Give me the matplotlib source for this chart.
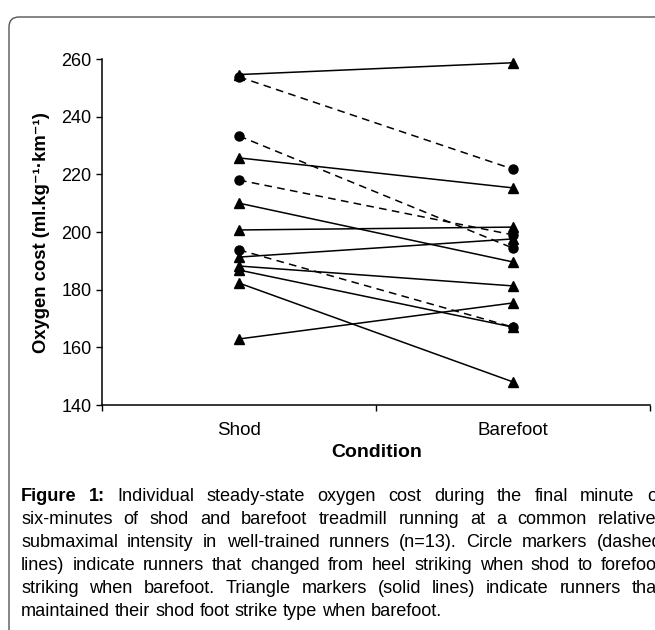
import matplotlib
matplotlib.use("Agg")
import matplotlib.pyplot as plt
from matplotlib.patches import FancyBboxPatch

# ---- data ----
conditions = ["Shod", "Barefoot"]
yticks = [140, 160, 180, 200, 220, 240, 260]
# runners that changed heel -> forefoot strike (circles, dashed)
circle_shod = [253.8, 233.3, 218.0, 193.8]
circle_barefoot = [221.8, 194.4, 199.0, 167.0]
# runners that maintained strike type (triangles, solid)
tri_shod = [254.6, 225.7, 210.0, 200.7, 191.3, 188.2, 186.8, 182.3, 162.9]
tri_barefoot = [258.7, 215.3, 189.6, 201.7, 197.6, 181.3, 167.0, 148.0, 175.4]

caption_lines = [
    "Figure 1: Individual steady-state oxygen cost during the final minute of",
    "six-minutes of shod and barefoot treadmill running at a common relative-",
    "submaximal intensity in well-trained runners (n=13). Circle markers (dashed",
    "lines) indicate runners that changed from heel striking when shod to forefoot",
    "striking when barefoot. Triangle markers (solid lines) indicate runners that",
    "maintained their shod foot strike type when barefoot.",
]

FONT = "Liberation Sans"
plt.rcParams["font.family"] = [FONT, "DejaVu Sans"]

W, H = 655, 630
fig = plt.figure(figsize=(W / 100, H / 100), dpi=100)

ax = fig.add_axes([102 / W, 1 - 405 / H, (650 - 102) / W, (405 - 59) / H])
xpos = [0.5, 1.5]
for s, b in zip(tri_shod, tri_barefoot):
    ax.plot(xpos, [s, b], color="black", lw=1.1, marker="^", ms=6.5,
            clip_on=False, zorder=3)
for s, b in zip(circle_shod, circle_barefoot):
    ax.plot(xpos, [s, b], color="black", lw=1.1, ls=(0, (5, 3.5)), marker="o",
            ms=6.5, clip_on=False, zorder=3)

ax.set_xlim(0, 2)
ax.set_ylim(140, 260)
ax.set_yticks(yticks)
ax.set_yticklabels([str(v) for v in yticks], fontsize=13)
ax.set_xticks([0, 1, 2])
ax.set_xticklabels([])
ax.set_xticks(xpos, minor=True)
ax.set_xticklabels(conditions, minor=True, fontsize=13.5)
ax.tick_params(axis="x", which="major", direction="out", length=4.5, width=1)
ax.tick_params(axis="x", which="minor", length=0, pad=12)
ax.tick_params(axis="y", direction="out", length=4.5, width=1, pad=3)
for sp in ["top", "right"]:
    ax.spines[sp].set_visible(False)
for sp in ["left", "bottom"]:
    ax.spines[sp].set_linewidth(1.1)

fig.text(377 / W, 1 - 457 / H, "Condition", fontsize=14, fontweight="bold",
         ha="center", va="baseline")
fig.text(42 / W, 1 - 233 / H, "Oxygen cost (ml.kg⁻¹·km⁻¹)", fontsize=13.3,
         fontweight="bold", rotation=90, ha="center", va="center")

# frame
box = FancyBboxPatch((0.09, -1.0), 8.0, (H - 17) / 100 + 1.0,
                     boxstyle="round,pad=0,rounding_size=0.1",
                     transform=fig.dpi_scale_trans, fill=False,
                     edgecolor="#555555", lw=1.0)
fig.add_artist(box)

# justified caption
renderer = fig.canvas.get_renderer()
x_left, x_right = 21, 662
base0, dy = 501, 23
fs = 13.05
for i, line in enumerate(caption_lines):
    words = line.split(" ")
    bold = [False] * len(words)
    if i == 0:
        bold[0] = bold[1] = True
    texts = []
    widths = []
    for w, bf in zip(words, bold):
        t = fig.text(0, 0, w, fontsize=fs, fontweight="bold" if bf else "normal",
                     ha="left", va="baseline")
        widths.append(t.get_window_extent(renderer).width)
        texts.append(t)
    if i < len(caption_lines) - 1:
        gap = (x_right - x_left - sum(widths)) / (len(words) - 1)
    else:
        sp = fig.text(0, 0, "a a", fontsize=fs)
        a = fig.text(0, 0, "aa", fontsize=fs)
        gap = sp.get_window_extent(renderer).width - a.get_window_extent(renderer).width
        sp.remove(); a.remove()
    x = x_left
    yb = 1 - (base0 + i * dy) / H
    for t, wd in zip(texts, widths):
        t.set_position((x / W, yb))
        x += wd + gap

fig.savefig("out.png", dpi=100)
